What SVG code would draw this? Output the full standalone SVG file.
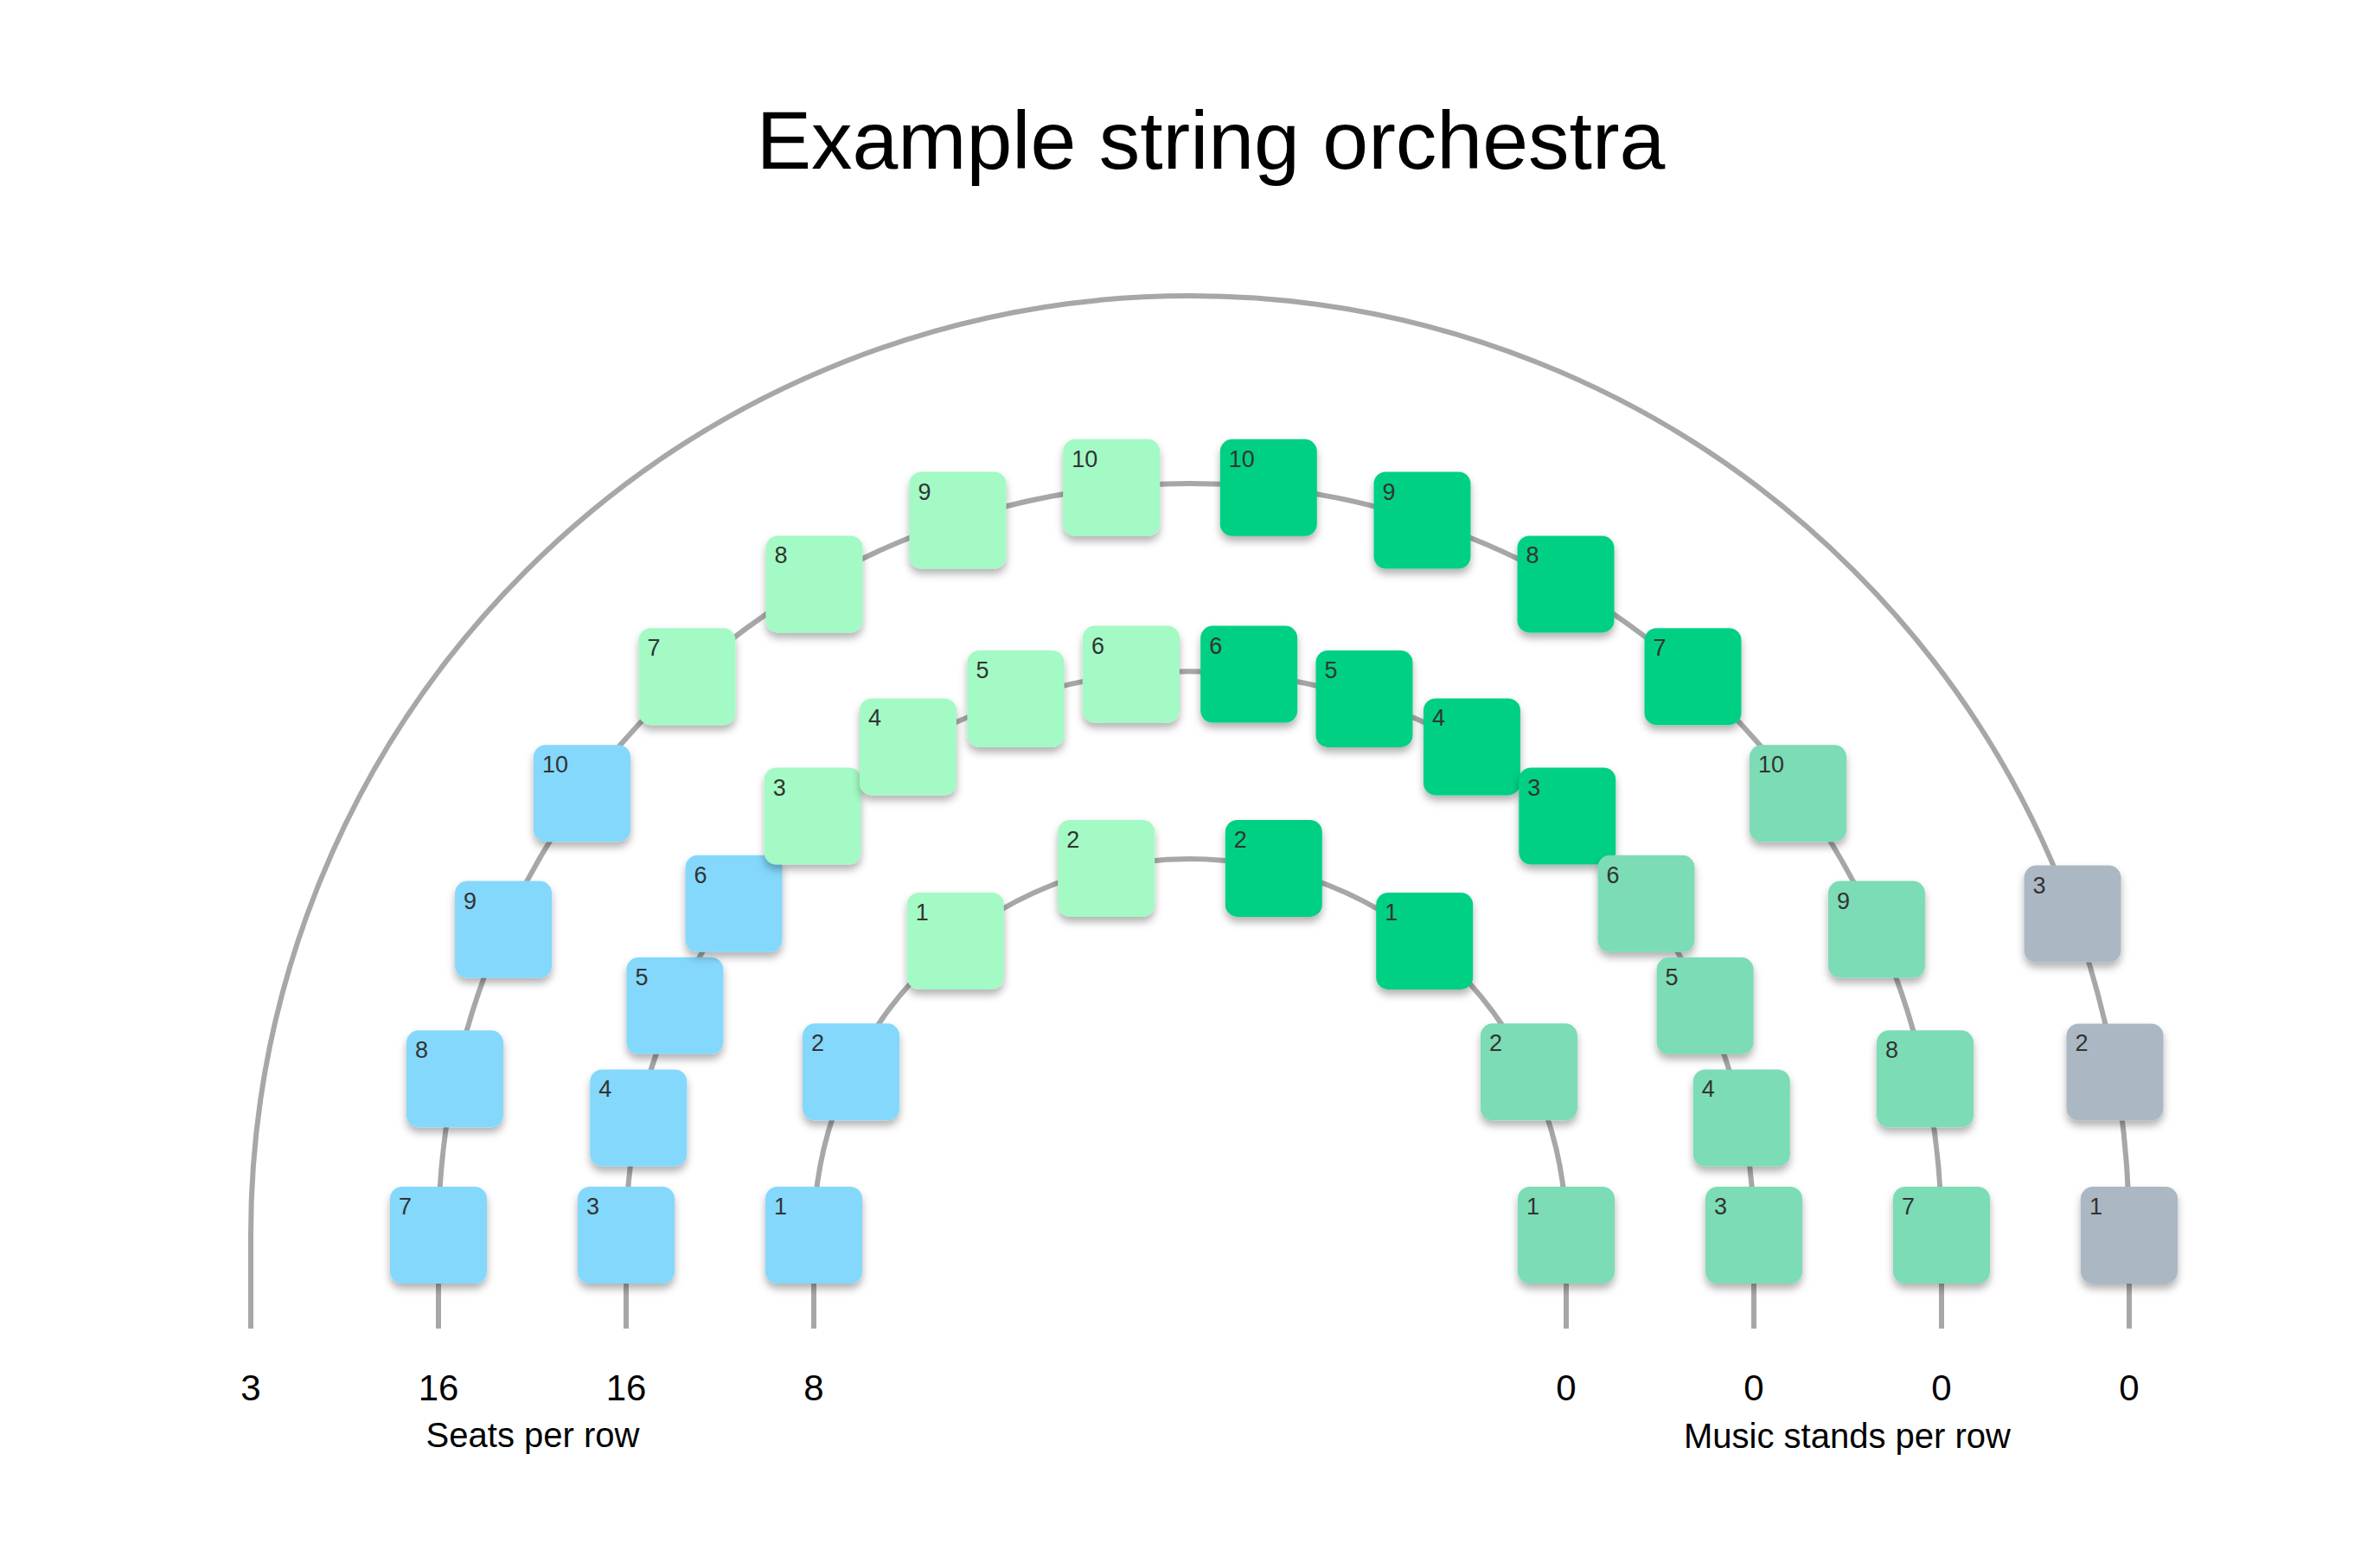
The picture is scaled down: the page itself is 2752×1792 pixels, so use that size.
<svg xmlns="http://www.w3.org/2000/svg" width="2752" height="1792" viewBox="0 0 2752 1792">
<defs>
<filter id="sh" x="-30%" y="-30%" width="160%" height="170%">
<feDropShadow dx="0" dy="6" stdDeviation="5" flood-color="#000" flood-opacity="0.3"/>
</filter>
<style>
.row{fill:none;stroke:#a7a7a7;stroke-width:6}
.seat rect{width:112px;height:112px;filter:url(#sh)}
.seat text{font-family:"Liberation Sans",Arial,sans-serif;font-size:27px;fill:#333}
.blue rect{fill:#84d8fc}
.lg rect{fill:#a3fac4}
.dg rect{fill:#00d084}
.teal rect{fill:#7bdcb5}
.gray rect{fill:#abb8c3}
.lbl{font-family:"Liberation Sans",Arial,sans-serif;fill:#000;text-anchor:middle}
</style>
</defs>
<rect width="2752" height="1792" fill="#fff"/>
<text class="lbl" x="1400" y="195" font-size="95">Example string orchestra</text>
<g id="connectors">
<path class="row" d="M290 1536 L290 1428 A1086 1086 0 0 1 2462 1428 L2462 1536"/>
<path class="row" d="M507 1536 L507 1428 A869 869 0 0 1 2245 1428 L2245 1536"/>
<path class="row" d="M724 1536 L724 1428 A652 652 0 0 1 2028 1428 L2028 1536"/>
<path class="row" d="M941 1536 L941 1428 A435 435 0 0 1 1811 1428 L1811 1536"/>
</g>
<g id="rowB">
<g id="b-blue7" class="seat blue" transform="translate(451,1372)"><rect rx="14"/><text x="10" y="32">7</text></g>
<g id="b-blue8" class="seat blue" transform="translate(470,1191.3)"><rect rx="14"/><text x="10" y="32">8</text></g>
<g id="b-blue9" class="seat blue" transform="translate(526.1,1018.6)"><rect rx="14"/><text x="10" y="32">9</text></g>
<g id="b-blue10" class="seat blue" transform="translate(617,861.2)"><rect rx="14"/><text x="10" y="32">10</text></g>
<g id="b-lg7" class="seat lg" transform="translate(738.5,726.2)"><rect rx="14"/><text x="10" y="32">7</text></g>
<g id="b-lg8" class="seat lg" transform="translate(885.5,619.4)"><rect rx="14"/><text x="10" y="32">8</text></g>
<g id="b-lg9" class="seat lg" transform="translate(1051.5,545.5)"><rect rx="14"/><text x="10" y="32">9</text></g>
<g id="b-lg10" class="seat lg" transform="translate(1229.2,507.8)"><rect rx="14"/><text x="10" y="32">10</text></g>
<g id="b-dg10" class="seat dg" transform="translate(1410.8,507.8)"><rect rx="14"/><text x="10" y="32">10</text></g>
<g id="b-dg9" class="seat dg" transform="translate(1588.5,545.5)"><rect rx="14"/><text x="10" y="32">9</text></g>
<g id="b-dg8" class="seat dg" transform="translate(1754.5,619.4)"><rect rx="14"/><text x="10" y="32">8</text></g>
<g id="b-dg7" class="seat dg" transform="translate(1901.5,726.2)"><rect rx="14"/><text x="10" y="32">7</text></g>
<g id="b-teal10" class="seat teal" transform="translate(2023,861.2)"><rect rx="14"/><text x="10" y="32">10</text></g>
<g id="b-teal9" class="seat teal" transform="translate(2113.9,1018.6)"><rect rx="14"/><text x="10" y="32">9</text></g>
<g id="b-teal8" class="seat teal" transform="translate(2170,1191.3)"><rect rx="14"/><text x="10" y="32">8</text></g>
<g id="b-teal7" class="seat teal" transform="translate(2189,1372)"><rect rx="14"/><text x="10" y="32">7</text></g>
</g>
<g id="rowC">
<g id="c-blue3" class="seat blue" transform="translate(668,1372)"><rect rx="14"/><text x="10" y="32">3</text></g>
<g id="c-blue4" class="seat blue" transform="translate(682.3,1236.4)"><rect rx="14"/><text x="10" y="32">4</text></g>
<g id="c-blue5" class="seat blue" transform="translate(724.4,1106.8)"><rect rx="14"/><text x="10" y="32">5</text></g>
<g id="c-blue6" class="seat blue" transform="translate(792.5,988.8)"><rect rx="14"/><text x="10" y="32">6</text></g>
<g id="c-lg3" class="seat lg" transform="translate(883.7,887.5)"><rect rx="14"/><text x="10" y="32">3</text></g>
<g id="c-lg4" class="seat lg" transform="translate(994,807.4)"><rect rx="14"/><text x="10" y="32">4</text></g>
<g id="c-lg5" class="seat lg" transform="translate(1118.5,751.9)"><rect rx="14"/><text x="10" y="32">5</text></g>
<g id="c-lg6" class="seat lg" transform="translate(1251.9,723.6)"><rect rx="14"/><text x="10" y="32">6</text></g>
<g id="c-dg6" class="seat dg" transform="translate(1388.2,723.6)"><rect rx="14"/><text x="10" y="32">6</text></g>
<g id="c-dg5" class="seat dg" transform="translate(1521.5,751.9)"><rect rx="14"/><text x="10" y="32">5</text></g>
<g id="c-dg4" class="seat dg" transform="translate(1646,807.4)"><rect rx="14"/><text x="10" y="32">4</text></g>
<g id="c-dg3" class="seat dg" transform="translate(1756.3,887.5)"><rect rx="14"/><text x="10" y="32">3</text></g>
<g id="c-teal6" class="seat teal" transform="translate(1847.5,988.8)"><rect rx="14"/><text x="10" y="32">6</text></g>
<g id="c-teal5" class="seat teal" transform="translate(1915.6,1106.8)"><rect rx="14"/><text x="10" y="32">5</text></g>
<g id="c-teal4" class="seat teal" transform="translate(1957.8,1236.4)"><rect rx="14"/><text x="10" y="32">4</text></g>
<g id="c-teal3" class="seat teal" transform="translate(1972,1372)"><rect rx="14"/><text x="10" y="32">3</text></g>
</g>
<g id="rowD">
<g id="d-blue1" class="seat blue" transform="translate(885,1372)"><rect rx="14"/><text x="10" y="32">1</text></g>
<g id="d-blue2" class="seat blue" transform="translate(928.1,1183.3)"><rect rx="14"/><text x="10" y="32">2</text></g>
<g id="d-lg1" class="seat lg" transform="translate(1048.8,1031.9)"><rect rx="14"/><text x="10" y="32">1</text></g>
<g id="d-lg2" class="seat lg" transform="translate(1223.2,947.9)"><rect rx="14"/><text x="10" y="32">2</text></g>
<g id="d-dg2" class="seat dg" transform="translate(1416.8,947.9)"><rect rx="14"/><text x="10" y="32">2</text></g>
<g id="d-dg1" class="seat dg" transform="translate(1591.2,1031.9)"><rect rx="14"/><text x="10" y="32">1</text></g>
<g id="d-teal2" class="seat teal" transform="translate(1711.9,1183.3)"><rect rx="14"/><text x="10" y="32">2</text></g>
<g id="d-teal1" class="seat teal" transform="translate(1755,1372)"><rect rx="14"/><text x="10" y="32">1</text></g>
</g>
<g id="rowA">
<g id="a-gray3" class="seat gray" transform="translate(2340.5,1000.6)"><rect rx="14"/><text x="10" y="32">3</text></g>
<g id="a-gray2" class="seat gray" transform="translate(2389.5,1183.4)"><rect rx="14"/><text x="10" y="32">2</text></g>
<g id="a-gray1" class="seat gray" transform="translate(2406,1372)"><rect rx="14"/><text x="10" y="32">1</text></g>
</g>
<g id="labels" font-size="42">
<text class="lbl" x="290" y="1619">3</text>
<text class="lbl" x="507" y="1619">16</text>
<text class="lbl" x="724" y="1619">16</text>
<text class="lbl" x="941" y="1619">8</text>
<text class="lbl" x="1811" y="1619">0</text>
<text class="lbl" x="2028" y="1619">0</text>
<text class="lbl" x="2245" y="1619">0</text>
<text class="lbl" x="2462" y="1619">0</text>
<text class="lbl" x="616" y="1673" font-size="40">Seats per row</text>
<text class="lbl" x="2136" y="1674" font-size="40">Music stands per row</text>
</g>
</svg>
